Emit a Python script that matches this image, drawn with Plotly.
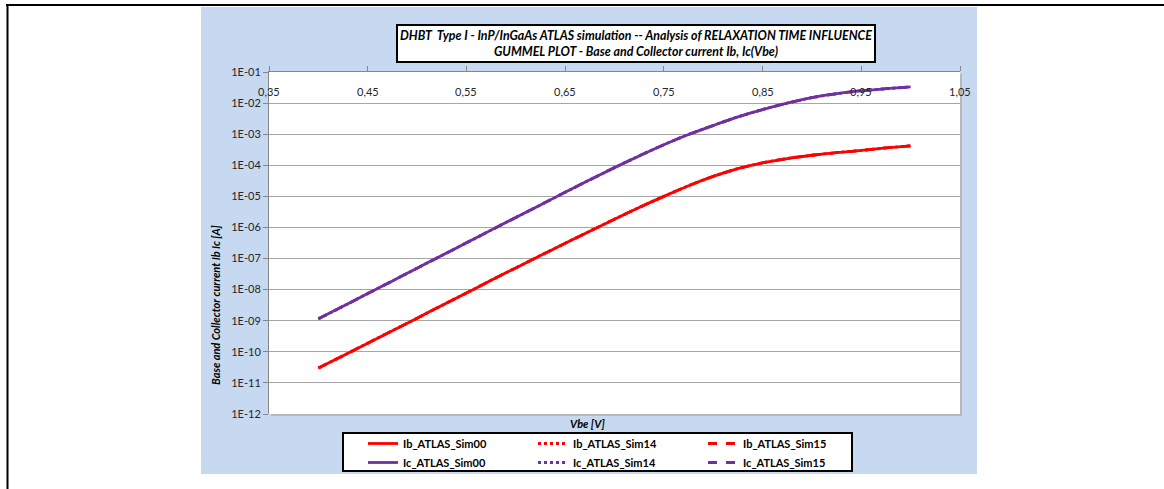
import plotly.graph_objects as go

W, H = 1164, 489

# Base-emitter voltage sweep [V]
vbe = [0.400, 0.425, 0.450, 0.475, 0.500, 0.525, 0.550, 0.575, 0.600, 0.625,
       0.650, 0.675, 0.700, 0.725, 0.750, 0.775, 0.800, 0.825, 0.850, 0.875,
       0.900, 0.925, 0.950, 0.975, 1.000]

# Collector current [A]
ic_sim00 = [1.15e-09, 2.9e-09, 7.5e-09, 1.9e-08, 4.9e-08, 1.25e-07, 3.2e-07, 8.2e-07,
            2.1e-06, 5.3e-06, 1.35e-05, 3.4e-05, 8.4e-05, 2.0e-04, 4.6e-04, 9.8e-04,
            1.9e-03, 3.6e-03, 6.2e-03, 1.0e-02, 1.5e-02, 2.0e-02, 2.5e-02, 2.9e-02,
            3.3e-02]
ic_sim14 = list(ic_sim00)
ic_sim15 = list(ic_sim00)

# Base current [A]
ib_sim00 = [3.0e-11, 7.5e-11, 1.9e-10, 4.8e-10, 1.2e-09, 3.1e-09, 7.8e-09, 2.0e-08,
            5.0e-08, 1.25e-07, 3.1e-07, 7.6e-07, 1.85e-06, 4.4e-06, 1.0e-05, 2.2e-05,
            4.4e-05, 7.8e-05, 1.2e-04, 1.65e-04, 2.1e-04, 2.55e-04, 3.0e-04, 3.6e-04,
            4.2e-04]
ib_sim14 = list(ib_sim00)
ib_sim15 = list(ib_sim00)

x_tick_vals = [0.35, 0.45, 0.55, 0.65, 0.75, 0.85, 0.95, 1.05]
x_tick_text = ["0,35", "0,45", "0,55", "0,65", "0,75", "0,85", "0,95", "1,05"]

y_tick_vals = [1e-12, 1e-11, 1e-10, 1e-09, 1e-08, 1e-07, 1e-06, 1e-05, 1e-04,
               1e-03, 1e-02, 1e-01]
y_tick_text = ["1E-12", "1E-11", "1E-10", "1E-09", "1E-08", "1E-07", "1E-06",
               "1E-05", "1E-04", "1E-03", "1E-02", "1E-01"]

RED = "#FF0000"
PURPLE = "#7030A0"
FONT = "Lato, Open Sans, sans-serif"

# pixel geometry of the plotting area
PL, PR, PT, PB = 269, 960, 72, 414


def px(x):
    return x / W


def py(y):
    return 1 - y / H


fig = go.Figure()

# (name, values, colour, dash, legend column)
series = [
    ("Ib_ATLAS_Sim14", ib_sim14, RED, "dot", "legend2"),
    ("Ic_ATLAS_Sim14", ic_sim14, PURPLE, "dot", "legend2"),
    ("Ib_ATLAS_Sim15", ib_sim15, RED, "dash", "legend3"),
    ("Ic_ATLAS_Sim15", ic_sim15, PURPLE, "dash", "legend3"),
    ("Ib_ATLAS_Sim00", ib_sim00, RED, "solid", "legend"),
    ("Ic_ATLAS_Sim00", ic_sim00, PURPLE, "solid", "legend"),
]
for name, vals, col, dash, leg in series:
    fig.add_trace(go.Scatter(
        x=vbe, y=vals, name=name, mode="lines", legend=leg,
        line=dict(color=col, width=2.8, dash=dash, shape="spline", smoothing=0.6),
    ))

legend_common = dict(
    orientation="v", yanchor="top", xanchor="left",
    bgcolor="rgba(0,0,0,0)", borderwidth=0, itemwidth=30,
    font=dict(family=FONT, size=11, color="#000000", weight="bold"),
    tracegroupgap=0, traceorder="normal",
)

fig.update_layout(
    width=W, height=H,
    margin=dict(l=0, r=0, t=0, b=0, autoexpand=False),
    paper_bgcolor="white",
    plot_bgcolor="white",
    font=dict(family=FONT, size=11, color="#262626"),
    showlegend=True,
    legend=dict(x=px(363), y=py(429), **legend_common),
    legend2=dict(x=px(533), y=py(429), **legend_common),
    legend3=dict(x=px(703), y=py(429), **legend_common),
    xaxis=dict(
        domain=[px(PL), px(PR)],
        range=[0.35, 1.05], tickvals=x_tick_vals,
        side="top", ticks="outside", ticklen=5, tickcolor="#868686",
        showticklabels=False,
        showline=True, linecolor="#868686", linewidth=1,
        showgrid=False, zeroline=False,
        anchor="y", automargin=False,
    ),
    yaxis=dict(
        domain=[py(PB), py(PT)],
        type="log", range=[-12, -1],
        tickvals=y_tick_vals, ticktext=y_tick_text,
        ticks="outside", ticklen=5, tickcolor="#868686",
        showline=True, linecolor="#868686", linewidth=1,
        showgrid=True, gridcolor="#A6A6A6", gridwidth=1,
        zeroline=False,
        tickfont=dict(family=FONT, size=11, color="#262626"),
        anchor="x", automargin=False,
    ),
)

shapes = [
    # chart area background
    dict(type="rect", xref="paper", yref="paper", layer="below",
         x0=px(201), x1=px(977), y0=py(474), y1=py(7),
         fillcolor="#C6D9F1", line=dict(width=0)),
    # plot area shadow and face
    dict(type="rect", xref="paper", yref="paper", layer="below",
         x0=px(PL + 2), x1=px(PR + 2), y0=py(PB + 2), y1=py(PT + 2),
         fillcolor="#B8B8B8", line=dict(width=0)),
    dict(type="rect", xref="paper", yref="paper", layer="below",
         x0=px(PL), x1=px(PR), y0=py(PB), y1=py(PT),
         fillcolor="white", line=dict(width=0)),
    # legend box
    dict(type="rect", xref="paper", yref="paper", layer="below",
         x0=px(343), x1=px(852), y0=py(471), y1=py(433),
         fillcolor="white", line=dict(color="#000000", width=2)),
    # page frame lines
    dict(type="line", xref="paper", yref="paper",
         x0=px(6), x1=px(1164), y0=py(5), y1=py(5),
         line=dict(color="black", width=2)),
    dict(type="line", xref="paper", yref="paper",
         x0=px(7.5), x1=px(7.5), y0=py(4), y1=py(489),
         line=dict(color="black", width=2)),
]
fig.update_layout(shapes=shapes)

annotations = [
    dict(text="DHBT  Type I - InP/InGaAs ATLAS simulation -- Analysis of RELAXATION TIME INFLUENCE<br>"
              "GUMMEL PLOT - Base and Collector current Ib, Ic(Vbe)",
         xref="paper", yref="paper", x=px(636), y=py(43), xanchor="center", yanchor="middle",
         showarrow=False, align="center",
         font=dict(family=FONT, size=12.4, color="#000000", weight="bold", style="italic"),
         bgcolor="white", bordercolor="#000000", borderwidth=2, borderpad=2),
    dict(text="Base and Collector current Ib Ic [A]",
         xref="paper", yref="paper", x=px(215), y=py(305), xanchor="center", yanchor="middle",
         textangle=-90, showarrow=False,
         font=dict(family=FONT, size=11, color="#000000", weight="bold", style="italic")),
    dict(text="Vbe [V]",
         xref="paper", yref="paper", x=px(587), y=py(423), xanchor="center", yanchor="middle",
         showarrow=False,
         font=dict(family=FONT, size=11, color="#000000", weight="bold", style="italic")),
]
# x tick labels sit just under the top axis line, inside the plot
for xv, xt in zip(x_tick_vals, x_tick_text):
    annotations.append(dict(
        text=xt, xref="x", yref="paper", x=xv, y=py(92),
        xanchor="center", yanchor="middle", showarrow=False,
        font=dict(family=FONT, size=11, color="#262626"),
    ))
fig.update_layout(annotations=annotations)

fig.write_html("out.html", config={"displayModeBar": False})
